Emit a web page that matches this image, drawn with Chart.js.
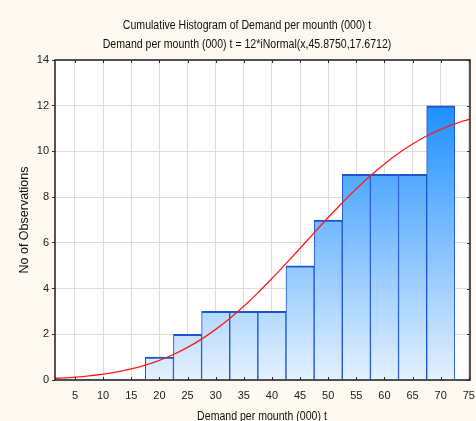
<!DOCTYPE html>
<html>
<head>
<meta charset="utf-8">
<script src="https://cdn.jsdelivr.net/npm/chart.js@4/dist/chart.umd.min.js"></script>
<style>
  html, body { margin: 0; padding: 0; background: #fdf9f0; }
  #wrap { width: 476px; height: 421px; }
</style>
</head>
<body>
<div id="wrap"><canvas id="c" width="476" height="421"></canvas></div>
<script>
// Histogram bins (centres, width 5) and cumulative counts
const binCenters = [5, 10, 15, 20, 25, 30, 35, 40, 45, 50, 55, 60, 65, 70];
const counts     = [0, 0, 0, 1, 2, 3, 3, 3, 5, 7, 9, 9, 9, 12];

// Fitted cumulative normal curve, sampled along the x range
const curveX = [1.45, 2.5, 5, 7.5, 10, 12.5, 15, 17.5, 20, 22.5, 25, 27.5, 30, 32.5, 35, 37.5,
                40, 42.5, 45, 47.5, 50, 52.5, 55, 57.5, 60, 62.5, 65, 67.5, 70, 72.5, 75, 75.2];
const curveY = [0.072, 0.085, 0.124, 0.179, 0.254, 0.354, 0.484, 0.650, 0.859, 1.115, 1.426, 1.790,
                2.215, 2.695, 3.231, 3.813, 4.438, 5.092, 5.763, 6.439, 7.108, 7.753, 8.366, 8.936,
                9.455, 9.919, 10.325, 10.674, 10.967, 11.209, 11.404, 11.42];

// Axis ticks
const xTicks = [5, 10, 15, 20, 25, 30, 35, 40, 45, 50, 55, 60, 65, 70, 75];
const yTicks = [0, 2, 4, 6, 8, 10, 12, 14];

// Texts
const titleLines = [
  'Cumulative Histogram of Demand per mounth (000) t',
  'Demand per mounth (000) t = 12*iNormal(x,45.8750,17.6712)'
];
const xTitle = 'Demand per mounth (000) t';
const yTitle = 'No of Observations';

const FONT = '"Liberation Sans", Arial, sans-serif';

function barGradient(ctx) {
  const chart = ctx.chart;
  const area = chart.chartArea;
  if (!area) return '#8cc0f8';
  const y = chart.scales.y;
  const g = chart.ctx.createLinearGradient(0, y.getPixelForValue(0), 0, y.getPixelForValue(12));
  g.addColorStop(0, '#e4f1fe');
  g.addColorStop(1, '#1e8fff');
  return g;
}

// Cream page, white plot area
const backdrop = {
  id: 'backdrop',
  beforeDraw(chart) {
    const { ctx, chartArea: a, width, height } = chart;
    ctx.save();
    ctx.fillStyle = '#fdf9f0';
    ctx.fillRect(0, 0, width, height);
    ctx.fillStyle = '#ffffff';
    ctx.fillRect(a.left, a.top, a.right - a.left, a.bottom - a.top);
    ctx.restore();
  }
};

// Narrow-set caption text
function caption(ctx, text, x, y, sx) {
  ctx.save();
  ctx.translate(x, y);
  ctx.scale(sx, 1);
  ctx.fillText(text, 0, 0);
  ctx.restore();
}

// Frame, inner tick marks and the captions
const frame = {
  id: 'frame',
  afterDraw(chart) {
    const { ctx, chartArea: a } = chart;
    const xs = chart.scales.x, ys = chart.scales.y;
    ctx.save();
    ctx.strokeStyle = '#333';
    ctx.lineWidth = 1;
    ctx.beginPath();
    xTicks.forEach(v => {
      const px = Math.round(xs.getPixelForValue(v)) + 0.5;
      ctx.moveTo(px, a.bottom); ctx.lineTo(px, a.bottom - 3);
      ctx.moveTo(px, a.top); ctx.lineTo(px, a.top + 3);
    });
    yTicks.forEach(v => {
      const py = Math.round(ys.getPixelForValue(v)) + 0.5;
      ctx.moveTo(a.right, py); ctx.lineTo(a.right - 3, py);
    });
    ctx.stroke();

    ctx.lineWidth = 1.6;
    ctx.strokeStyle = '#2b2b2b';
    ctx.strokeRect(a.left, a.top, a.right - a.left, a.bottom - a.top);

    ctx.fillStyle = '#111';
    ctx.textAlign = 'center';
    ctx.textBaseline = 'middle';
    ctx.font = '12.5px ' + FONT;
    caption(ctx, titleLines[0], 247, 26, 0.845);
    caption(ctx, titleLines[1], 247, 45, 0.845);
    caption(ctx, xTitle, 262, 417, 0.845);

    ctx.save();
    ctx.translate(25, 220);
    ctx.rotate(-Math.PI / 2);
    ctx.fillText(yTitle, 0, 0);
    ctx.restore();
    ctx.restore();
  }
};

new Chart(document.getElementById('c'), {
  data: {
    datasets: [
      {
        type: 'line',
        data: curveX.map((x, i) => ({ x, y: curveY[i] })),
        borderColor: '#ff1a1a',
        borderWidth: 1.3,
        pointRadius: 0,
        cubicInterpolationMode: 'monotone',
        fill: false,
        order: 0
      },
      {
        type: 'bar',
        data: binCenters.map((x, i) => ({ x, y: counts[i] })),
        backgroundColor: barGradient,
        borderColor: '#1d55d0',
        borderWidth: { top: 2, left: 1, right: 1, bottom: 0 },
        borderSkipped: false,
        minBarLength: 1,
        barPercentage: 1,
        categoryPercentage: 1,
        grouped: false,
        order: 1
      }
    ]
  },
  options: {
    responsive: false,
    animation: false,
    events: [],
    layout: { padding: { top: 60, right: 6, left: 0, bottom: 0 } },
    plugins: { legend: { display: false }, tooltip: { enabled: false }, title: { display: false } },
    scales: {
      x: {
        type: 'linear',
        min: 1.45,
        max: 75.2,
        offset: false,
        afterBuildTicks: s => { s.ticks = xTicks.map(v => ({ value: v })); },
        afterFit: s => { s.height = 41; s.paddingLeft = 0; s.paddingRight = 0; },
        grid: { color: '#dddddd', lineWidth: 1, drawTicks: false, offset: false },
        border: { display: false },
        ticks: { font: { size: 11, family: FONT }, color: '#222', padding: 9, maxRotation: 0, autoSkip: false }
      },
      y: {
        min: 0,
        max: 14,
        afterBuildTicks: s => { s.ticks = yTicks.map(v => ({ value: v })); },
        afterFit: s => { s.width = 55; s.paddingTop = 0; s.paddingBottom = 0; },
        grid: { color: '#dddddd', lineWidth: 1, tickLength: 3, tickColor: '#333' },
        border: { display: false },
        ticks: { font: { size: 11, family: FONT }, color: '#222', padding: 3 }
      }
    }
  },
  plugins: [backdrop, frame]
});
</script>
</body>
</html>
